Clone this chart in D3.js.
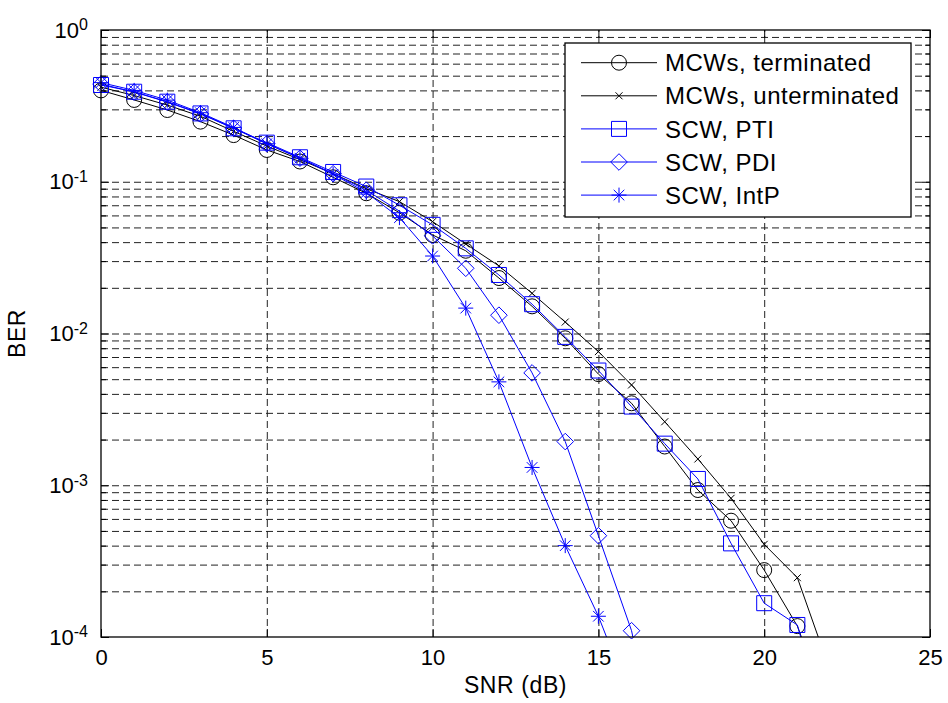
<!DOCTYPE html>
<html>
<head>
<meta charset="utf-8">
<script src="https://cdn.jsdelivr.net/npm/d3@7"></script>
<style>
  body { margin: 0; background: #fff; }
  svg { display: block; font-family: "Liberation Sans", Arial, Helvetica, sans-serif; }
</style>
</head>
<body>
<svg id="chart" width="948" height="703"></svg>
<script>
// SNR points (dB) and BER values
const snr = [0, 1, 2, 3, 4, 5, 6, 7, 8, 9, 10, 11, 12, 13, 14, 15, 16, 17, 18, 19, 20, 21, 22];
const mcwTerminated = [0.40, 0.346, 0.297, 0.249, 0.203, 0.162, 0.136, 0.107, 0.084, 0.0625, 0.0446, 0.0351,
    0.0232, 0.0151, 0.0093, 0.0054, 0.00347, 0.0018, 0.00093, 0.000584, 0.000276, 0.000118, 0.00003];
const mcwUnterminated = [0.42, 0.37, 0.32, 0.27, 0.215, 0.172, 0.14, 0.113, 0.09, 0.074, 0.0546, 0.0389,
    0.0279, 0.0184, 0.0119, 0.0076, 0.00458, 0.00262, 0.00149, 0.00082, 0.000408, 0.000246, 0.000059];
const scwPTI = [0.434, 0.392, 0.337, 0.282, 0.225, 0.181, 0.145, 0.116, 0.093, 0.070, 0.052, 0.0364,
    0.0243, 0.0156, 0.0095, 0.0057, 0.0033, 0.00188, 0.0011, 0.000414, 0.000167, 0.00012, 0.00002];
const scwPDI = [0.44, 0.39, 0.335, 0.28, 0.225, 0.178, 0.143, 0.113, 0.088, 0.064, 0.044, 0.0269,
    0.0132, 0.0055, 0.00194, 0.000465, 0.00011, 0.00001];
const scwIntP = [0.45, 0.40, 0.345, 0.285, 0.228, 0.178, 0.143, 0.112, 0.085, 0.058, 0.0324, 0.0147,
    0.0048, 0.00131, 0.0004, 0.000137, 0.000038];

const seriesNames = ["MCWs, terminated", "MCWs, unterminated", "SCW, PTI", "SCW, PDI", "SCW, IntP"];
const seriesColors = ["#000000", "#000000", "#0000ff", "#0000ff", "#0000ff"];
const seriesMarkers = ["circle", "x", "square", "diamond", "star"];
const seriesValues = [mcwTerminated, mcwUnterminated, scwPTI, scwPDI, scwIntP];

const xTicks = [0, 5, 10, 15, 20, 25];
const yTicks = [1e-4, 1e-3, 1e-2, 1e-1, 1e0];

const svg = d3.select("#chart");
const plotLeft = 101, plotRight = 930, plotTop = 30, plotBottom = 637;

const x = d3.scaleLinear().domain([0, 25]).range([plotLeft, plotRight]);
const y = d3.scaleLog().domain([1e-4, 1]).range([plotBottom, plotTop]);

// minor log ticks 2..9 for each decade
const yMinor = [];
for (let e = -4; e < 0; e++) {
    for (let m = 2; m <= 9; m++) yMinor.push(m * Math.pow(10, e));
}

// marker path strings, centred on 0,0
function markerPath(type) {
    const p = d3.path();
    if (type == "circle") {
        p.moveTo(7.5, 0); p.arc(0, 0, 7.5, 0, 2 * Math.PI);
    } else if (type == "square") {
        p.rect(-7.5, -7.5, 15, 15);
    } else if (type == "diamond") {
        p.moveTo(0, -8.3); p.lineTo(8.3, 0); p.lineTo(0, 8.3); p.lineTo(-8.3, 0); p.closePath();
    } else if (type == "x") {
        p.moveTo(-3.5, -3.5); p.lineTo(3.5, 3.5); p.moveTo(-3.5, 3.5); p.lineTo(3.5, -3.5);
    } else if (type == "star") {
        p.moveTo(-7.5, 0); p.lineTo(7.5, 0); p.moveTo(0, -7.5); p.lineTo(0, 7.5);
        p.moveTo(-5.3, -5.3); p.lineTo(5.3, 5.3); p.moveTo(-5.3, 5.3); p.lineTo(5.3, -5.3);
    }
    return p.toString();
}

svg.append("rect").attr("width", 948).attr("height", 703).attr("fill", "#fff");

// grid (dashed)
const grid = svg.append("g").attr("class", "grid");
grid.append("g")
    .attr("transform", `translate(0,${plotBottom})`)
    .call(d3.axisBottom(x).tickValues([5, 10, 15, 20]).tickSize(-(plotBottom - plotTop)).tickFormat(""));
grid.append("g")
    .attr("transform", `translate(${plotLeft},0)`)
    .call(d3.axisLeft(y).tickValues(yMinor.concat([1e-3, 1e-2, 1e-1])).tickSize(-(plotRight - plotLeft)).tickFormat(""));
grid.selectAll(".domain").remove();
grid.selectAll("line")
    .attr("stroke", "#222")
    .attr("stroke-width", 1)
    .attr("stroke-dasharray", "7,4");

// data lines, clipped to the axes box
svg.append("clipPath").attr("id", "clip")
    .append("rect").attr("x", plotLeft).attr("y", plotTop)
    .attr("width", plotRight - plotLeft).attr("height", plotBottom - plotTop);

const line = d3.line().x(d => x(d[0])).y(d => y(d[1]));

seriesValues.forEach((vals, i) => {
    const pts = vals.map((v, k) => [snr[k], v]);
    svg.append("path")
        .datum(pts)
        .attr("clip-path", "url(#clip)")
        .attr("fill", "none")
        .attr("stroke", seriesColors[i])
        .attr("stroke-width", 1)
        .attr("d", line);
    svg.append("g")
        .selectAll("path")
        .data(pts.filter(d => d[1] >= 1e-4))
        .join("path")
        .attr("transform", d => `translate(${x(d[0])},${y(d[1])})`)
        .attr("d", markerPath(seriesMarkers[i]))
        .attr("fill", "none")
        .attr("stroke", seriesColors[i])
        .attr("stroke-width", 1);
});

// axes box with inward ticks
const axes = svg.append("g").attr("class", "axes");
axes.append("rect")
    .attr("x", plotLeft).attr("y", plotTop)
    .attr("width", plotRight - plotLeft).attr("height", plotBottom - plotTop)
    .attr("fill", "none").attr("stroke", "#000").attr("stroke-width", 1.3);

axes.append("g")
    .attr("transform", `translate(0,${plotBottom})`)
    .call(d3.axisBottom(x).tickValues(xTicks).tickSizeInner(-8).tickSizeOuter(0).tickPadding(12));
axes.append("g")
    .attr("transform", `translate(0,${plotTop})`)
    .call(d3.axisTop(x).tickValues(xTicks).tickSizeInner(-8).tickSizeOuter(0).tickFormat(""));

const yAxis = axes.append("g")
    .attr("transform", `translate(${plotLeft},0)`)
    .call(d3.axisLeft(y).tickValues(yTicks).tickSizeInner(-8).tickSizeOuter(0).tickPadding(13));
axes.append("g")
    .attr("transform", `translate(${plotRight},0)`)
    .call(d3.axisRight(y).tickValues(yTicks).tickSizeInner(-8).tickSizeOuter(0).tickFormat(""));
axes.append("g")
    .attr("transform", `translate(${plotLeft},0)`)
    .call(d3.axisLeft(y).tickValues(yMinor).tickSizeInner(-5).tickSizeOuter(0).tickFormat(""));
axes.append("g")
    .attr("transform", `translate(${plotRight},0)`)
    .call(d3.axisRight(y).tickValues(yMinor).tickSizeInner(-5).tickSizeOuter(0).tickFormat(""));

axes.selectAll(".domain").remove();
axes.selectAll(".tick line").attr("stroke", "#000");
axes.selectAll("text")
    .attr("font-family", '"Liberation Sans", Arial, sans-serif')
    .attr("font-size", 22)
    .attr("fill", "#000");

// y labels as 10^n with superscript
yAxis.selectAll(".tick text")
    .text("")
    .each(function (d) {
        const t = d3.select(this);
        t.append("tspan").text("10");
        t.append("tspan").attr("dy", "-0.45em").attr("font-size", 16).text(Math.round(Math.log10(d)));
    });

// axis titles
svg.append("text")
    .attr("x", (plotLeft + plotRight) / 2)
    .attr("y", 693)
    .attr("text-anchor", "middle")
    .attr("font-size", 23)
    .attr("letter-spacing", 0.6)
    .text("SNR (dB)");
svg.append("text")
    .attr("transform", `translate(25,${(plotTop + plotBottom) / 2}) rotate(-90)`)
    .attr("text-anchor", "middle")
    .attr("font-size", 23)
    .attr("letter-spacing", 0.6)
    .text("BER");

// legend
const legend = svg.append("g").attr("class", "legend");
legend.append("rect")
    .attr("x", 565).attr("y", 43).attr("width", 346).attr("height", 174)
    .attr("fill", "#fff").attr("stroke", "#000").attr("stroke-width", 1.3);

seriesNames.forEach((name, i) => {
    const ly = 62.7 + i * 33.1;
    legend.append("line")
        .attr("x1", 581).attr("x2", 657).attr("y1", ly).attr("y2", ly)
        .attr("stroke", seriesColors[i]).attr("stroke-width", 1);
    legend.append("path")
        .attr("transform", `translate(619,${ly})`)
        .attr("d", markerPath(seriesMarkers[i]))
        .attr("fill", "none")
        .attr("stroke", seriesColors[i]);
    legend.append("text")
        .attr("x", 665).attr("y", ly).attr("dy", "0.36em")
        .attr("font-size", 24)
        .attr("letter-spacing", 0.5)
        .text(name);
});
</script>
</body>
</html>
